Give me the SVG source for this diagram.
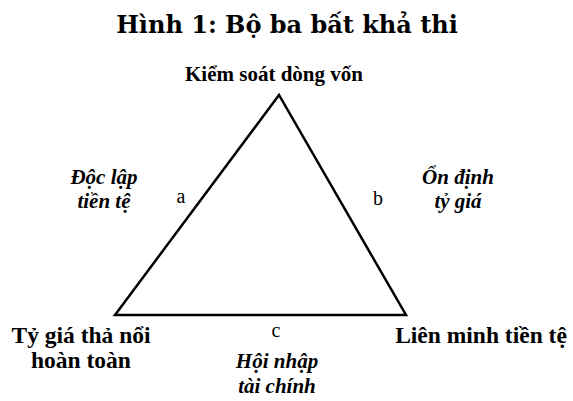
<svg xmlns="http://www.w3.org/2000/svg" width="573" height="401" viewBox="0 0 573 401">
<style>
.title{font-family:"DejaVu Serif","Liberation Serif",serif;font-weight:bold;font-size:24px;fill:#000}
.lbl{font-family:"Liberation Serif","Times New Roman",serif;font-weight:bold;font-size:23.5px;fill:#000}
.top{font-size:21px}
.it{font-family:"Liberation Serif","Times New Roman",serif;font-weight:bold;font-style:italic;font-size:21px;fill:#000}
.let{font-family:"Liberation Serif","Times New Roman",serif;font-size:20px;fill:#000}
.edge{fill:none;stroke:#000;stroke-width:2.5;stroke-linejoin:miter}
</style>
<rect width="573" height="401" fill="#fff"/>
<text class="title" x="287" y="33" text-anchor="middle">Hình 1: Bộ ba bất khả thi</text>
<g id="connectors">
<polygon class="edge" points="279,95 115,315 406,315"/>
</g>
<g id="top"><text class="lbl top" x="274" y="81" text-anchor="middle">Kiểm soát dòng vốn</text></g>
<g id="left"><text class="lbl" x="81" y="343" text-anchor="middle">Tỷ giá thả nổi</text><text class="lbl" x="81" y="368" text-anchor="middle">hoàn toàn</text></g>
<g id="right"><text class="lbl" x="481" y="343" text-anchor="middle">Liên minh tiền tệ</text></g>
<g id="edge-a"><text class="let" x="181" y="203" text-anchor="middle">a</text><text class="it" x="104" y="184" text-anchor="middle">Độc lập</text><text class="it" x="104" y="208" text-anchor="middle">tiền tệ</text></g>
<g id="edge-b"><text class="let" x="378" y="205" text-anchor="middle">b</text><text class="it" x="458" y="184" text-anchor="middle">Ổn định</text><text class="it" x="458" y="208" text-anchor="middle">tỷ giá</text></g>
<g id="edge-c"><text class="let" x="276" y="337" text-anchor="middle">c</text><text class="it" x="277" y="368" text-anchor="middle">Hội nhập</text><text class="it" x="277" y="393" text-anchor="middle">tài chính</text></g>
</svg>
